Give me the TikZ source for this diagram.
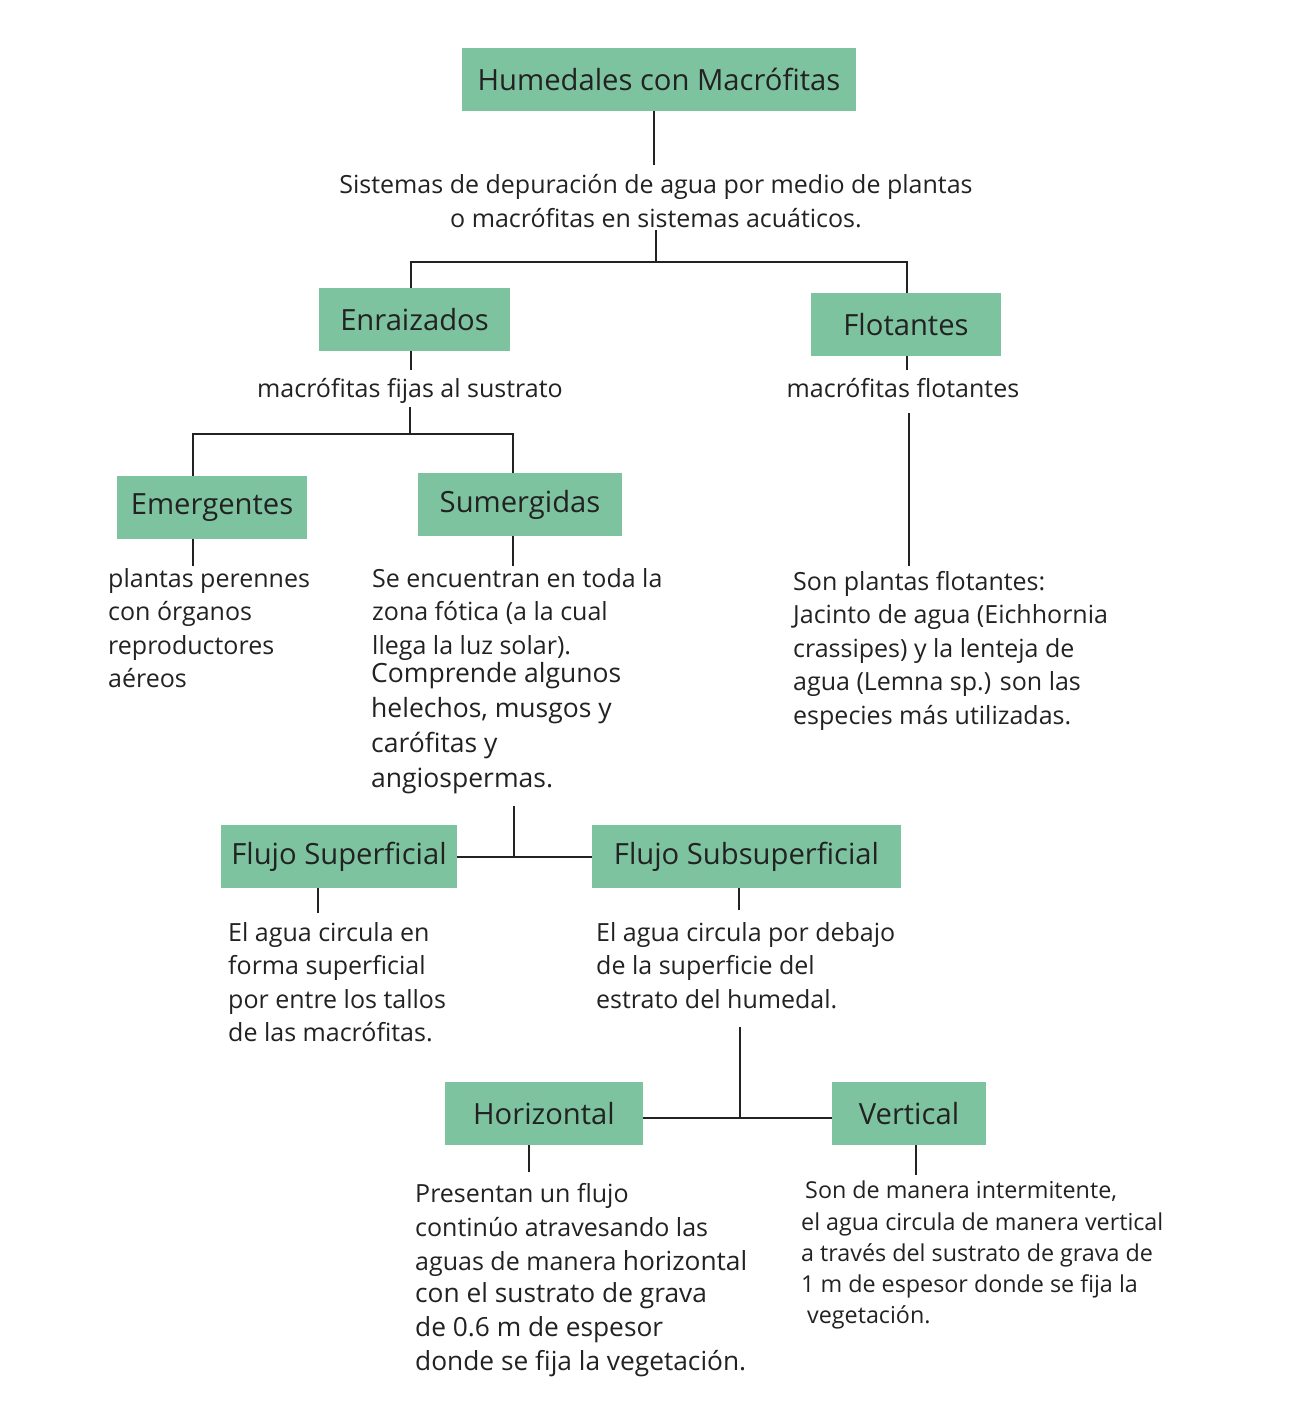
\documentclass[tikz,border=0pt]{standalone}
\usepackage{fontspec}
\setmainfont{Open Sans}
\definecolor{boxgreen}{HTML}{7EC3A0}
\definecolor{txt}{HTML}{222222}
\begin{document}
\begin{tikzpicture}[x=1pt,y=-1pt,
  box/.style={fill=boxgreen, minimum height=63pt, inner sep=0pt, text=txt, font=\fontsize{29.2}{33}\selectfont},
  desc/.style={anchor=north west, align=left, inner sep=0pt, text=txt, font=\fontsize{25}{33.5}\selectfont},
  conn/.style={line width=2.4pt, draw=txt}]
\fill[white] (0,0) rectangle (1311,1410);
\useasboundingbox (0,0) rectangle (1311,1410);
% boxes
\node[box, minimum width=394pt] (hum) at (659,79.5) {Humedales con Macrófitas};
\node[box, minimum width=191pt] (enr) at (414.5,319.5) {Enraizados};
\node[box, minimum width=190pt] (flo) at (906,324.5) {Flotantes};
\node[box, minimum width=190pt] (eme) at (212,507.5) {Emergentes};
\node[box, minimum width=204pt] (sum) at (520,504.5) {Sumergidas};
\node[box, minimum width=236pt] (fsup) at (339,856.5) {Flujo Superficial};
\node[box, minimum width=309pt] (fsub) at (746.5,856.5) {Flujo Subsuperficial};
\node[box, minimum width=198pt] (hor) at (544,1113.5) {Horizontal};
\node[box, minimum width=154pt] (ver) at (909,1113.5) {Vertical};
% texts
\node[desc, anchor=center, align=center] (sist) at (656,201) {Sistemas de depuración de agua por medio de plantas\\o macrófitas en sistemas acuáticos.};
\node[desc, anchor=center, align=center] (fijas) at (410,391) {macrófitas fijas al sustrato};
\node[desc, anchor=center, align=center] (flotd) at (903,388) {macrófitas flotantes};
\node[desc] (emet) at (108,568) {plantas perennes\\con órganos\\reproductores\\aéreos};
\node[desc] (sumt) at (372,568) {Se encuentran en toda la\\zona fótica (a la cual\\llega la luz solar).};
\node[desc, font=\fontsize{26.5}{35}\selectfont] (sumt2) at (371,662) {Comprende algunos\\helechos, musgos y\\carófitas y\\angiospermas.};
\node[desc] (flot) at (793,571) {Son plantas flotantes:\\Jacinto de agua (Eichhornia\\crassipes) y la lenteja de\\agua (Lemna sp.) son las\\especies más utilizadas.};
\node[desc] (fsupt) at (228,922) {El agua circula en\\forma superficial\\por entre los tallos\\de las macrófitas.};
\node[desc] (fsubt) at (596,922) {El agua circula por debajo\\de la superficie del\\estrato del humedal.};
\node[desc, font=\fontsize{25}{34}\selectfont] (hort) at (415,1183) {Presentan un flujo\\continúo atravesando las\\aguas de manera {\fontsize{26.3}{34}\selectfont horizontal}\\[-2pt]{\fontsize{26.3}{34.5}\selectfont con el sustrato de grava}\\{\fontsize{26.3}{34.5}\selectfont de 0.6 m de espesor}\\{\fontsize{26.3}{34.5}\selectfont donde se fija la vegetación.}};
\node[desc, font=\fontsize{23.3}{31.2}\selectfont] (vert) at (801,1181) {\hspace{4pt}Son de manera intermitente,\\el agua circula de manera vertical\\a través del sustrato de grava de\\1 m de espesor donde se fija la\\\hspace{6pt}vegetación.};
% junctions
\coordinate (j1) at (656,262);
\coordinate (j2) at (410,434);
\coordinate (j3) at (514,857);
\coordinate (j4) at (740,1118);
% connectors
\draw[conn] ([xshift=-5pt]hum.south) -- (654,165);
\draw[conn] (656,230) -- (j1);
\draw[conn] ([xshift=-3.5pt]enr.north) |- (j1) -| ([xshift=1pt]flo.north);
\draw[conn] ([xshift=-3.5pt]enr.south) -- ++(0,19);
\draw[conn] (410,407) -- (j2);
\draw[conn] ([xshift=-19pt]eme.north) |- (j2) -| ([xshift=-7pt]sum.north);
\draw[conn] ([xshift=1pt]flo.south) -- ++(0,14);
\draw[conn] (909,413) -- (909,566);
\draw[conn] ([xshift=-19pt]eme.south) -- ++(0,27);
\draw[conn] ([xshift=-7pt]sum.south) -- ++(0,30);
\draw[conn] (514,806) -- (j3);
\draw[conn] (fsup.east |- j3) -- (fsub.west |- j3);
\draw[conn] ([xshift=-21pt]fsup.south) -- ++(0,25);
\draw[conn] ([xshift=-7.5pt]fsub.south) -- ++(0,22);
\draw[conn] (740,1027) -- (j4);
\draw[conn] (hor.east |- j4) -- (ver.west |- j4);
\draw[conn] ([xshift=-15pt]hor.south) -- ++(0,27);
\draw[conn] ([xshift=7pt]ver.south) -- ++(0,30);
\end{tikzpicture}
\end{document}
